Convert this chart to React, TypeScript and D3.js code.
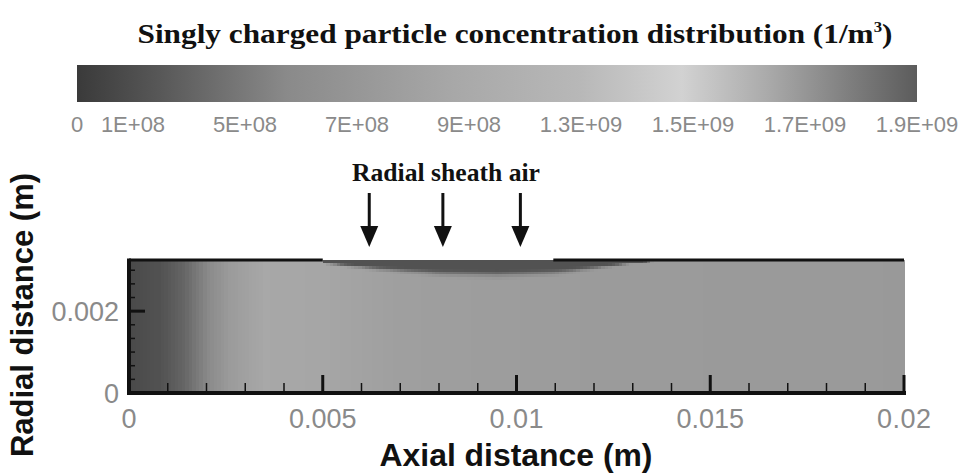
import React from "react";
import * as d3 from "d3";

// ---------- data ----------
const titleText = "Singly charged particle concentration distribution";
const colorbarLabels = ["0", "1E+08", "5E+08", "7E+08", "9E+08", "1.3E+09", "1.5E+09", "1.7E+09", "1.9E+09"];
const colorbarSlots = [0, 0.5, 1.5, 2.5, 3.5, 4.5, 5.5, 6.5, 7.5];
const colorStops = [0, 0.1, 0.25, 0.45, 0.6, 0.72, 0.82, 0.92, 1];
const colorGrays = ["#3a3a3a", "#585858", "#8a8a8a", "#a8a8a8", "#b8b8b8", "#d2d2d2", "#ababab", "#7e7e7e", "#5c5c5c"];
const concMax = 1.9e9;

const axialPositions = [0, 0.0008, 0.0014, 0.002, 0.0026, 0.0035, 0.005, 0.007, 0.009, 0.011, 0.013, 0.016, 0.02];
const coreConcentration = [1.0e8, 1.5e8, 2.6e8, 4.6e8, 6.9e8, 8.5e8, 8.3e8, 7.4e8, 7.2e8, 7.0e8, 6.9e8, 6.8e8, 6.7e8];

const sheathAxial = [0.005, 0.0065, 0.008, 0.0095, 0.011, 0.012, 0.013, 0.0138];
const sheathDepth = [0.0001, 0.0003, 0.00045, 0.0005, 0.00042, 0.00026, 0.0001, 0];
const sheathConcentration = 1.5e8;
const sheathInlet = [0.005, 0.01095];
const arrowPositions = [0.0062, 0.0081, 0.0101];

const xMajorTicks = [0, 0.005, 0.01, 0.015, 0.02];
const xMinorStep = 0.001;
const yMajorTicks = [0, 0.002];
const yMinorStep = 0.002 / 6;
const xDomain = [0, 0.02];
const yDomain = [0, 0.00325];

export default function App() {
  const W = 961, H = 473;
  const x = d3.scaleLinear().domain(xDomain).range([129, 904]);
  const y = d3.scaleLinear().domain(yDomain).range([393, 260]);
  const color = d3.scaleLinear<string>().domain(colorStops.map((t) => t * concMax)).range(colorGrays).clamp(true);
  const core = d3.scaleLinear().domain(axialPositions).range(coreConcentration).clamp(true);
  const depth = d3.scaleLinear().domain(sheathAxial).range(sheathDepth).clamp(true);
  const cbX = d3.scaleLinear().domain([0, 7.5]).range([77, 917]);

  const nx = 220, ny = 48;
  const cells: JSX.Element[] = [];
  const dx = (xDomain[1] - xDomain[0]) / nx;
  const dy = (yDomain[1] - yDomain[0]) / ny;
  for (let i = 0; i < nx; i++) {
    const xc = xDomain[0] + (i + 0.5) * dx;
    const c = core(xc);
    const d = xc >= sheathAxial[0] && xc <= sheathAxial[sheathAxial.length - 1] ? depth(xc) : 0;
    for (let j = 0; j < ny; j++) {
      const rc = yDomain[0] + (j + 0.5) * dy;
      let v = c;
      if (d > 0) {
        const distTop = yDomain[1] - rc;
        let f = Math.max(0, Math.min(1, (1 - distTop / d) * 1.8));
        f = f * f * (3 - 2 * f);
        v = c * (1 - f) + sheathConcentration * f;
      }
      const x0 = x(xDomain[0] + i * dx);
      const y1 = y(yDomain[0] + (j + 1) * dy);
      cells.push(
        <rect key={`${i}-${j}`} x={x0} y={y1} width={x(dx) - x(0) + 0.6} height={y(0) - y(dy) + 0.6} fill={color(v)} />
      );
    }
  }

  const xMinor = d3.range(xDomain[0], xDomain[1] + 1e-9, xMinorStep).filter((t) => !xMajorTicks.some((m) => Math.abs(m - t) < 1e-9));
  const yMinor = d3.range(yMinorStep, yDomain[1], yMinorStep).filter((t) => !yMajorTicks.some((m) => Math.abs(m - t) < 1e-9));
  const fmt = (v: number) => (v === 0 ? "0" : String(+v.toFixed(4)));

  const cbStops = colorStops.map((t, i) => ({ t, c: colorGrays[i] }));
  const tickFont = "'Liberation Sans', Arial, sans-serif";
  const tickFill = "#8a8a8a";

  return (
    <svg width={W} height={H} style={{ position: "absolute", left: 0, top: 0, background: "#fff" }}>
      <defs>
        <linearGradient id="cb" x1="0" x2="1" y1="0" y2="0">
          {cbStops.map((s, i) => (
            <stop key={i} offset={s.t} stopColor={s.c} />
          ))}
        </linearGradient>
      </defs>
      {/* title */}
      <text x={515} y={43} textAnchor="middle" fontFamily="'Liberation Serif', 'Times New Roman', serif" fontWeight="bold" fontSize={28} fill="#111" textLength={755} lengthAdjust="spacingAndGlyphs">
        {titleText}{"  (1/m"}
        <tspan dy={-11} fontSize={15}>3</tspan>
        <tspan dy={11}>)</tspan>
      </text>
      {/* colorbar */}
      <rect x={cbX(0)} y={65} width={cbX(7.5) - cbX(0)} height={37} fill="url(#cb)" />
      {colorbarLabels.map((l, i) => (
        <text key={l} x={cbX(colorbarSlots[i])} y={132} textAnchor="middle" fontFamily={tickFont} fontSize={22} fill={tickFill}>
          {l}
        </text>
      ))}
      {/* annotation */}
      <text x={446} y={181} textAnchor="middle" fontFamily="'Liberation Serif', 'Times New Roman', serif" fontWeight="bold" fontSize={25} fill="#111" textLength={188} lengthAdjust="spacingAndGlyphs">
        Radial sheath air
      </text>
      {arrowPositions.map((a) => (
        <g key={a}>
          <line x1={x(a)} x2={x(a)} y1={193} y2={230} stroke="#111" strokeWidth={3} />
          <path d={`M${x(a) - 9},${226} L${x(a) + 9},${226} L${x(a)},${247} Z`} fill="#111" />
        </g>
      ))}
      {/* field */}
      <g shapeRendering="crispEdges">{cells}</g>
      {/* boundary lines */}
      <line x1={x(0)} x2={x(sheathInlet[0])} y1={y(yDomain[1])} y2={y(yDomain[1])} stroke="#111" strokeWidth={3} />
      <line x1={x(sheathInlet[1])} x2={x(xDomain[1])} y1={y(yDomain[1])} y2={y(yDomain[1])} stroke="#111" strokeWidth={3} />
      <line x1={x(0)} x2={x(0)} y1={y(0) + 2} y2={y(yDomain[1]) - 1.5} stroke="#111" strokeWidth={4} />
      <line x1={x(0) - 2} x2={x(xDomain[1]) + 2} y1={y(0)} y2={y(0)} stroke="#111" strokeWidth={4} />
      {/* x ticks */}
      {xMajorTicks.map((t) => (
        <line key={`xM${t}`} x1={x(t)} x2={x(t)} y1={y(0)} y2={y(0) - 18} stroke="#111" strokeWidth={3} />
      ))}
      {xMinor.map((t) => (
        <line key={`xm${t}`} x1={x(t)} x2={x(t)} y1={y(0)} y2={y(0) - 10} stroke="#111" strokeWidth={1.5} />
      ))}
      {xMajorTicks.map((t) => (
        <text key={`xl${t}`} x={x(t)} y={428} textAnchor="middle" fontFamily={tickFont} fontSize={27} fill={tickFill} textLength={fmt(t).length > 1 ? fmt(t).length * 13.5 : undefined}>
          {fmt(t)}
        </text>
      ))}
      {/* y ticks */}
      {yMajorTicks.map((t) => (
        <line key={`yM${t}`} x1={x(0)} x2={x(0) + 16} y1={y(t)} y2={y(t)} stroke="#111" strokeWidth={3} />
      ))}
      {yMinor.map((t) => (
        <line key={`ym${t}`} x1={x(0)} x2={x(0) + 6} y1={y(t)} y2={y(t)} stroke="#111" strokeWidth={1.5} />
      ))}
      {yMajorTicks.map((t) => (
        <text key={`yl${t}`} x={119} y={y(t) + 10} textAnchor="end" fontFamily={tickFont} fontSize={27} fill={tickFill}>
          {fmt(t)}
        </text>
      ))}
      {/* axis titles */}
      <text x={516} y={466} textAnchor="middle" fontFamily="'Liberation Sans', Arial, sans-serif" fontWeight="bold" fontSize={31} fill="#111" textLength={273} lengthAdjust="spacingAndGlyphs">
        Axial distance (m)
      </text>
      <text transform="translate(33,315) rotate(-90)" textAnchor="middle" fontFamily="'Liberation Sans', Arial, sans-serif" fontWeight="bold" fontSize={31} fill="#111" textLength={284} lengthAdjust="spacingAndGlyphs">
        Radial distance (m)
      </text>
    </svg>
  );
}
